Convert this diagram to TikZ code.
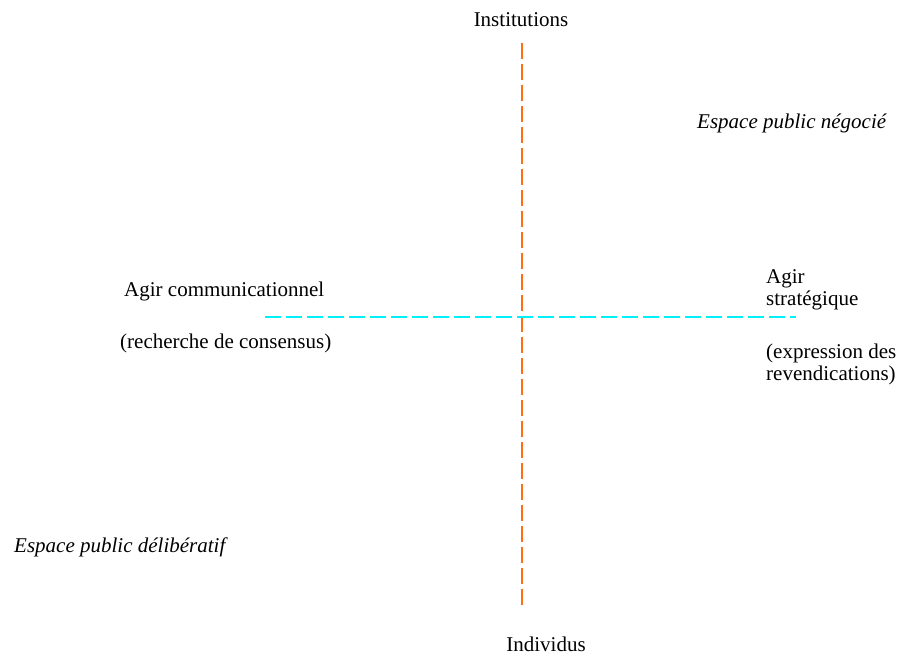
\documentclass[tikz,border=0pt]{standalone}
\usepackage{fontspec}
\setmainfont{Liberation Serif}
\usetikzlibrary{positioning}
\definecolor{axisorange}{RGB}{255,110,20}
\definecolor{axiscyan}{RGB}{0,240,250}
\tikzstyle{axis}=[
  line width=2pt,
  dash pattern=on 16pt off 5pt
]
\tikzstyle{caption}=[
  inner sep=0pt,
  anchor=base west,
  align=left,
  font=\fontsize{21}{22}\selectfont
]

\begin{document}
\begin{tikzpicture}[x=1pt, y=-1pt]
  \useasboundingbox (0,0) rectangle (902,658);

  \coordinate (top)    at (522,  43);
  \coordinate (bottom) at (522, 605);
  \coordinate (left)   at (265, 317);
  \coordinate (right)  at (796, 317);

  \node[caption, anchor=base] (inst)  at (521,  27) {Institutions};
  \node[caption, anchor=base] (indiv) at (546, 651) {Individus};

  \node[caption, font=\fontsize{21}{22}\itshape] (nego) at (697, 129) {Espace public négocié};
  \node[caption, font=\fontsize{21}{22}\itshape] (deli) at ( 14, 552) {Espace public délibératif};

  \node[caption] (comm)  at (124, 296) {Agir communicationnel};
  \node[caption] (cons)  at (120, 348) {(recherche de consensus)};
  \node[caption] (strat) at (766, 305) {Agir\\stratégique};
  \node[caption] (reve)  at (766, 380) {(expression des\\revendications)};

  \draw[axis, axisorange] (top) -- (bottom);
  \draw[axis, axiscyan] (left) -- (right);
\end{tikzpicture}
\end{document}
